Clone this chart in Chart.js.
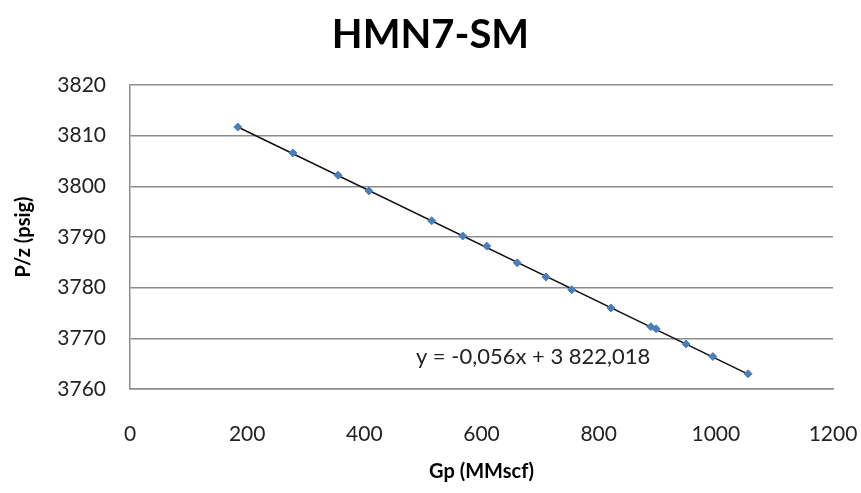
<!DOCTYPE html>
<html>
<head>
<meta charset="utf-8">
<script src="https://cdn.jsdelivr.net/npm/chart.js@4.4.1/dist/chart.umd.min.js"></script>
<style>
  html, body { margin: 0; padding: 0; background: #fff; }
  #wrap { width: 861px; height: 493px; }
</style>
</head>
<body>
<div id="wrap"><canvas id="grafico" width="861" height="493"></canvas></div>
<script>
// Datos
const gp = [184, 278, 355, 408, 515, 568, 609, 661, 710, 754, 821, 889, 898, 949, 995, 1055];
const pz = [3811.7, 3806.6, 3802.2, 3799.1, 3793.2, 3790.2, 3788.2, 3784.9, 3782.1, 3779.6, 3776.0, 3772.3, 3771.9, 3768.9, 3766.4, 3763.0];
const yTicks = [3760, 3770, 3780, 3790, 3800, 3810, 3820];
const xTicks = [0, 200, 400, 600, 800, 1000, 1200];

// Linea de tendencia (ecuacion mostrada en el grafico)
const pendiente = -0.056;
const intercepto = 3822.018;
const ecuacion = 'y = -0,056x + 3 822,018';
const posEcuacion = { x: 488, y: 3766.4 };

const FUENTE = 'Lato, "DejaVu Sans", sans-serif';

const xMin = Math.min(...gp), xMax = Math.max(...gp);
const tendencia = [
  { x: xMin, y: pendiente * xMin + intercepto },
  { x: xMax, y: pendiente * xMax + intercepto }
];

// Texto de la ecuacion
const etiquetaEcuacion = {
  id: 'etiquetaEcuacion',
  afterDatasetsDraw(chart) {
    const { ctx, scales } = chart;
    ctx.save();
    ctx.font = '22px ' + FUENTE;
    ctx.fillStyle = '#222';
    ctx.textAlign = 'left';
    ctx.textBaseline = 'middle';
    ctx.fillText(ecuacion, scales.x.getPixelForValue(posEcuacion.x), scales.y.getPixelForValue(posEcuacion.y));
    ctx.restore();
  }
};

new Chart(document.getElementById('grafico'), {
  type: 'scatter',
  data: {
    datasets: [
      {
        label: 'Tendencia',
        type: 'line',
        data: tendencia,
        borderColor: '#111',
        borderWidth: 1.5,
        pointRadius: 0,
        fill: false,
        order: 1
      },
      {
        label: 'P/z',
        data: gp.map((g, i) => ({ x: g, y: pz[i] })),
        pointStyle: 'rectRot',
        pointRadius: 4,
        backgroundColor: '#4a7ebb',
        borderColor: '#4a7ebb',
        order: 0
      }
    ]
  },
  options: {
    responsive: false,
    animation: false,
    layout: { padding: 0 },
    plugins: {
      legend: { display: false },
      tooltip: { enabled: false },
      title: {
        display: true,
        text: 'HMN7-SM',
        color: '#000',
        font: { family: FUENTE, size: 40, weight: 'bold' },
        padding: { top: 11, bottom: 26 }
      }
    },
    scales: {
      x: {
        type: 'linear',
        min: 0,
        max: 1200,
        afterBuildTicks: s => { s.ticks = xTicks.map(v => ({ value: v })); },
        afterFit: s => { s.height = 104; s.paddingLeft = 0; s.paddingRight = 28; },
        grid: { display: false, drawTicks: false },
        border: { display: true, color: '#8c8c8c', width: 1.5 },
        ticks: { color: '#222', padding: 33, font: { family: FUENTE, size: 21 }, callback: v => String(v) },
        title: {
          display: true,
          text: 'Gp (MMscf)',
          color: '#000',
          font: { family: FUENTE, size: 20, weight: 'bold' },
          padding: { top: 0, bottom: 9 }
        }
      },
      y: {
        min: 3760,
        max: 3820,
        afterBuildTicks: s => { s.ticks = yTicks.map(v => ({ value: v })); },
        afterFit: s => { s.width = 130; s.paddingTop = 0; s.paddingBottom = 0; },
        grid: { color: '#8c8c8c', lineWidth: 1.5, drawTicks: false },
        border: { display: true, color: '#8c8c8c', width: 1.5 },
        ticks: { color: '#222', padding: 24, font: { family: FUENTE, size: 21 }, callback: v => String(v) },
        title: {
          display: true,
          text: 'P/z (psig)',
          color: '#000',
          font: { family: FUENTE, size: 20, weight: 'bold' },
          padding: { top: 12, bottom: 0 }
        }
      }
    }
  },
  plugins: [etiquetaEcuacion]
});
</script>
</body>
</html>
